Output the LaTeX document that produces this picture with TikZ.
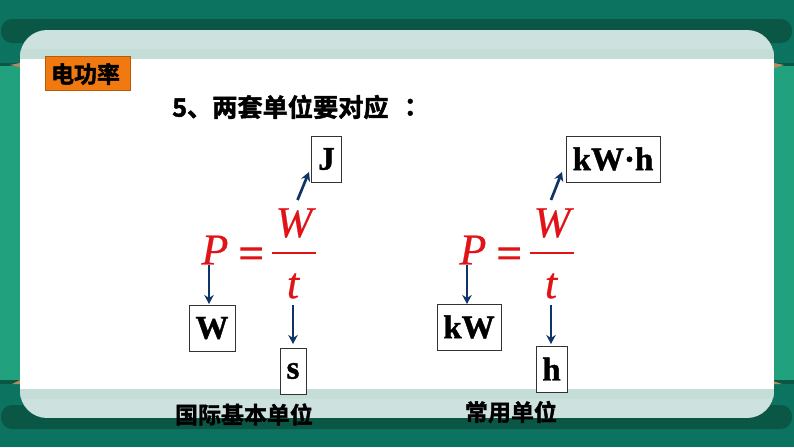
\documentclass[tikz,border=0pt]{standalone}
\usepackage{fontspec}
\setmainfont{Liberation Serif}
\newfontfamily\cjkb[RawFeature={embolden=1.8}]{Noto Sans CJK SC Bold}
\newfontfamily\cjktc[RawFeature={embolden=1.8}]{Noto Sans CJK TC Bold}
\newfontfamily\unitfont[RawFeature={embolden=1.2}]{Liberation Serif Bold}
\newfontfamily\eqfont[RawFeature={embolden=2.2}]{Liberation Serif}
\newfontfamily\symfont[RawFeature={embolden=0.5}]{Liberation Serif Italic}
\usetikzlibrary{arrows.meta}
\definecolor{bgtop}{HTML}{0B7360}
\definecolor{bgside}{HTML}{22A17F}
\definecolor{strip}{HTML}{0B5746}
\definecolor{pale}{HTML}{CDE2DE}
\definecolor{palemid}{HTML}{C5DDD7}
\definecolor{orangebox}{HTML}{F07A10}
\definecolor{fred}{HTML}{E01418}
\definecolor{arrowblue}{HTML}{0F3468}
\definecolor{brownmark}{HTML}{B98A5A}
\tikzset{
  x=1pt,y=-1pt,
  unitbox/.style={draw=black!80,line width=0.9pt,fill=white,inner sep=0pt,font=\unitfont\fontsize{33}{33}\selectfont,text=black,anchor=center},
  sym/.style={inner sep=0pt,text=fred,font=\symfont\fontsize{44}{44}\selectfont},
  eqs/.style={inner sep=0pt,text=fred,font=\eqfont\fontsize{44}{44}\selectfont},
  arr/.style={draw=arrowblue,line width=2.7pt,-{Stealth[length=9pt,width=9.5pt]}},
  bar/.style={draw=fred,line width=2pt},
  cnlabel/.style={inner sep=0pt,text=black,font=\cjkb\fontsize{23}{23}\selectfont},
}
\begin{document}
\begin{tikzpicture}
\useasboundingbox (0,0) rectangle (794,447);
% background
\fill[bgtop] (0,0) rectangle (794,447);
\fill[bgside] (0,65) rectangle (794,381);
\fill[strip] (0,63) rectangle (20,66);
\fill[strip] (774,63) rectangle (794,66);
\fill[strip] (0,380) rectangle (20,384);
\fill[strip] (774,380) rectangle (794,384);
\fill[brownmark] (10,65) -- (20,63) -- (20,67) -- cycle;
\fill[brownmark] (784,65) -- (774,63) -- (774,68) -- cycle;
\fill[brownmark] (12,384) -- (20,380) -- (20,384) -- cycle;
\fill[brownmark] (782,384) -- (773,381) -- (773,384) -- cycle;
\fill[strip,rounded corners=11pt] (1,19) rectangle (792,43);
\fill[strip,rounded corners=11pt] (1,405) rectangle (792,429);
% panel
\begin{scope}
\clip[rounded corners=27pt] (20,30) rectangle (774,418);
\fill[pale] (20,30) rectangle (774,418);
\fill[palemid] (20,49) rectangle (774,59);
\fill[palemid] (20,389) rectangle (774,399);
\fill[white] (20,59) rectangle (774,389);
\end{scope}
% tag
\node[draw=orangebox!75!black,line width=0.5pt,fill=orangebox,minimum width=85pt,minimum height=34pt,inner sep=0pt,anchor=center] (tag) at (87.5,73) {};
\node[cnlabel] (tagtext) at (85.5,74) {电功率};
\node[inner sep=0pt,anchor=west,text=black,font=\cjkb\fontsize{25.2}{25.2}\selectfont] (heading) at (172,107) {5、两套单位要对应\hspace{9pt}{\cjktc：}};
% left formula
\node[sym] (P1) at (215,250) {P};
\node[eqs] (E1) at (251,258) {=};
\node[sym] (W1) at (294,223) {W};
\node[sym] (T1) at (293,286) {t};
\coordinate (B1a) at (272,253);
\coordinate (B1b) at (316,253);
\draw[bar] (B1a) -- (B1b);
% right formula
\node[sym] (P2) at (473,250) {P};
\node[eqs] (E2) at (509,258) {=};
\node[sym] (W2) at (552,223) {W};
\node[sym] (T2) at (551,286) {t};
\coordinate (B2a) at (530,253);
\coordinate (B2b) at (574,253);
\draw[bar] (B2a) -- (B2b);
% unit boxes
\node[unitbox,minimum width=30pt,minimum height=46pt] (bJ) at (326.5,159) {J};
\node[unitbox,minimum width=46pt,minimum height=46pt] (bW) at (212,328) {W};
\node[unitbox,minimum width=26pt,minimum height=46pt] (bS) at (293,371) {s};
\node[unitbox,minimum width=94pt,minimum height=46pt] (bKWH) at (613,159) {kW·h};
\node[unitbox,minimum width=64pt,minimum height=46pt] (bKW) at (469,327) {kW};
\node[unitbox,minimum width=31pt,minimum height=46pt] (bH) at (551.5,369) {h};
% connector ends
\coordinate (a1) at (297.5,200);
\coordinate (a1e) at (309,172);
\coordinate (a2) at (209,265);
\coordinate (a2e) at (209,304);
\coordinate (a3) at (293,305);
\coordinate (a3e) at (293,344);
\coordinate (a4) at (551,200);
\coordinate (a4e) at (562,172);
\coordinate (a5) at (467,265);
\coordinate (a5e) at (467,304);
\coordinate (a6) at (551,305);
\coordinate (a6e) at (551,344);
\draw[arr] (a1) -- (a1e);
\draw[arr] (a2) -- (a2e);
\draw[arr] (a3) -- (a3e);
\draw[arr] (a4) -- (a4e);
\draw[arr] (a5) -- (a5e);
\draw[arr] (a6) -- (a6e);
% captions
\node[cnlabel] (cap1) at (244,414.5) {国际基本单位};
\node[cnlabel] (cap2) at (511,412) {常用单位};
\end{tikzpicture}
\end{document}
